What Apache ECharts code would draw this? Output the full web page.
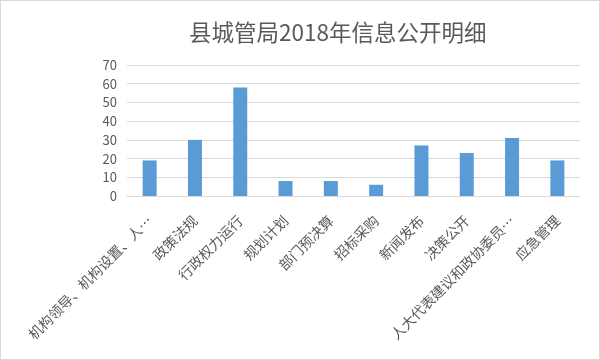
<!DOCTYPE html>
<html><head><meta charset="utf-8">
<script src="https://cdn.jsdelivr.net/npm/echarts@6/dist/echarts.min.js"></script>
<style>html,body{margin:0;padding:0;background:#fff}#c{width:600px;height:360px;box-sizing:border-box;border:1px solid #d9d9d9}</style>
</head><body><div id="c"></div>
<script>
const titleText = '县城管局2018年信息公开明细';
const categories = ['机构领导、机构设置、人…','政策法规','行政权力运行','规划计划','部门预决算','招标采购','新闻发布','决策公开','人大代表建议和政协委员…','应急管理'];
const values = [19, 30, 58, 8, 8, 6, 27, 23, 31, 19];
const yTicks = [0, 10, 20, 30, 40, 50, 60, 70];

const chart = echarts.init(document.getElementById('c'));
const font = '"Noto Sans CJK SC", "Noto Sans", sans-serif';
chart.setOption({
  animation: false,
  textStyle: { fontFamily: font },
  title: { text: titleText, left: 183, top: 15, textStyle: { fontSize: 22.5, fontWeight: 'normal', color: '#595959', fontFamily: font } },
  grid: { left: 126, right: 19, top: 64, bottom: 163, containLabel: false },
  xAxis: {
    type: 'category', data: categories,
    axisLine: { lineStyle: { color: '#d9d9d9' } },
    axisTick: { show: false },
    axisLabel: { rotate: 45, interval: 0, color: '#595959', fontSize: 14, margin: 22 }
  },
  yAxis: {
    type: 'value', min: yTicks[0], max: yTicks[yTicks.length - 1], interval: 10,
    axisLine: { show: false }, axisTick: { show: false },
    splitLine: { lineStyle: { color: '#d9d9d9' } },
    axisLabel: { color: '#595959', fontSize: 13, margin: 10 }
  },
  series: [{ type: 'bar', data: values, barWidth: 14, itemStyle: { color: '#5B9BD5' } }]
});
</script></body></html>
